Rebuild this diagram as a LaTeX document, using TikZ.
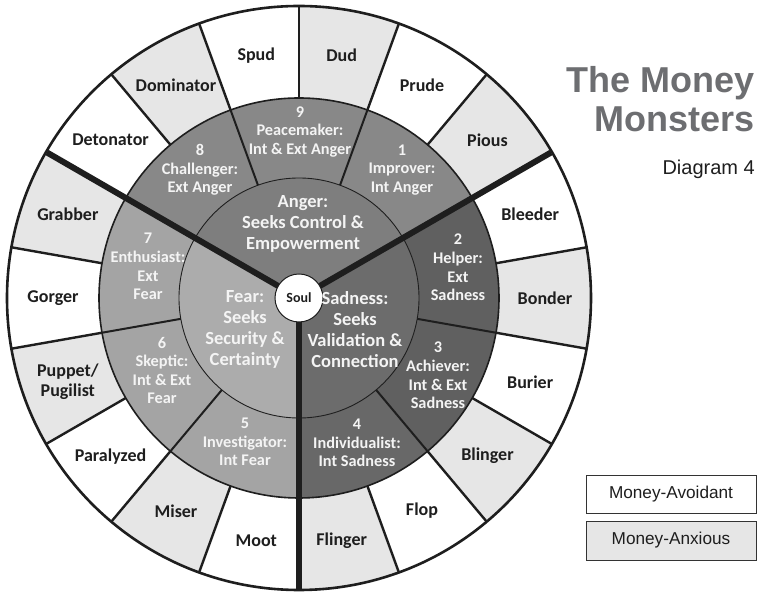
\documentclass[tikz,border=0pt]{standalone}
\usepackage{fontspec}
\setmainfont{Carlito}
\newfontfamily\headfont{Liberation Sans}

\definecolor{anxious}{HTML}{E6E6E6}
\definecolor{angertype}{HTML}{888888}
\definecolor{angercore}{HTML}{7E7E7E}
\definecolor{feartype}{HTML}{A4A4A4}
\definecolor{fearcore}{HTML}{ACACAC}
\definecolor{sadtype}{HTML}{606060}
\definecolor{sadfour}{HTML}{686868}
\definecolor{sadcore}{HTML}{6C6C6C}
\definecolor{titlegray}{HTML}{6D6E71}
\definecolor{ink}{HTML}{1E1E1E}
\definecolor{paletext}{HTML}{F4F4F4}

% annular sector: colour, start angle, end angle, inner radius, outer radius
\newcommand\ringsector[5]{%
  \fill[#1] (#2:#4) arc[start angle=#2, end angle=#3, radius=#4]
    -- (#3:#5) arc[start angle=#3, end angle=#2, radius=#5] -- cycle;}

\begin{document}
\begin{tikzpicture}[x=1pt,y=1pt,
  monster/.style={font=\fontsize{18}{20}\selectfont\bfseries, text=ink, align=center, inner sep=0pt},
  typelabel/.style={font=\fontsize{16.3}{18.6}\selectfont\bfseries, text=paletext, align=center, inner sep=0pt},
  corelabel/.style={font=\fontsize{18.5}{21}\selectfont\bfseries, text=paletext, align=center, inner sep=0pt},
  legendbox/.style={draw=black!80, line width=0.9pt, minimum width=170pt, minimum height=38pt,
    inner sep=0pt, font=\headfont\fontsize{17.2}{19}\selectfont, text=ink},
  divider/.style={line width=2.4pt, draw=ink},
  typedivider/.style={line width=2pt, draw=ink},
  maindivider/.style={line width=6pt, draw=ink}]

\useasboundingbox (-299,-295) rectangle (459,298);

% outer ring: money-avoidant (white) and money-anxious (grey) segments
\fill[white] (0,0) circle (292);
\foreach \s/\e in {-10/10,30/50,70/90,110/130,150/170,190/210,230/250,270/290,310/330}
  \ringsector{anxious}{\s}{\e}{200}{292};

% enneagram type ring
\ringsector{angertype}{30}{150}{120}{200}
\ringsector{feartype}{150}{270}{120}{200}
\ringsector{sadfour}{270}{310}{120}{200}
\ringsector{sadtype}{310}{390}{120}{200}

% core emotions
\fill[angercore] (0,0) -- (30:120) arc[start angle=30, end angle=150, radius=120] -- cycle;
\fill[fearcore] (0,0) -- (150:120) arc[start angle=150, end angle=270, radius=120] -- cycle;
\fill[sadcore] (0,0) -- (270:120) arc[start angle=270, end angle=390, radius=120] -- cycle;

% circles and dividers
\draw[line width=0.9pt, ink] (0,0) circle (120);
\draw[line width=1.6pt, ink] (0,0) circle (200);
\foreach \a in {70,110,190,230,310,350}
  \draw[typedivider] (\a:120) -- (\a:200);
\foreach \a in {10,50,70,90,110,130,170,190,210,230,250,290,310,330,350}
  \draw[divider] (\a:200) -- (\a:292);
\foreach \a in {30,150,270}
  \draw[maindivider] (\a:24) -- (\a:291);
\draw[line width=2.6pt, ink] (0,0) circle (292);

% centre
\node[circle, draw=ink, fill=white, line width=1pt, minimum size=48pt, inner sep=0pt,
  font=\fontsize{14}{16}\selectfont\bfseries, text=ink] (soul) at (0,0) {Soul};

% core labels
\node[corelabel] (anger) at (4,74) {Anger:\\Seeks Control \&\\Empowerment};
\node[corelabel] (fear) at (-54,-31.5) {Fear:\\Seeks\\Security \&\\Certainty};
\node[corelabel] (sadness) at (56,-31.5) {Sadness:\\Seeks\\Validation \&\\Connection};

% type labels
\node[typelabel] (t9) at (1,166) {9\\Peacemaker:\\Int \& Ext Anger};
\node[typelabel] (t1) at (103,128) {1\\Improver:\\Int Anger};
\node[typelabel] (t8) at (-99,128) {8\\Challenger:\\Ext Anger};
\node[typelabel] (t7) at (-151,31.5) {7\\Enthusiast:\\Ext\\Fear};
\node[typelabel] (t6) at (-137,-72.5) {6\\Skeptic:\\Int \& Ext\\Fear};
\node[typelabel] (t5) at (-54,-144) {5\\Investigator:\\Int Fear};
\node[typelabel] (t4) at (58,-145) {4\\Individualist:\\Int Sadness};
\node[typelabel] (t3) at (139,-77.5) {3\\Achiever:\\Int \& Ext\\Sadness};
\node[typelabel] (t2) at (159,30.5) {2\\Helper:\\Ext\\Sadness};

% money monsters
\node[monster] (bonder) at (0:246) {Bonder};
\node[monster] (bleeder) at (20:246) {Bleeder};
\node[monster] (pious) at (40:246) {Pious};
\node[monster] (prude) at (60:246) {Prude};
\node[monster] (dud) at (80:246) {Dud};
\node[monster] (spud) at (100:246) {Spud};
\node[monster] (dominator) at (120:246) {Dominator};
\node[monster] (detonator) at (140:246) {Detonator};
\node[monster] (grabber) at (160:246) {Grabber};
\node[monster] (gorger) at (180:246) {Gorger};
\node[monster] (puppet) at (200:246) {Puppet/\\Pugilist};
\node[monster] (paralyzed) at (220:246) {Paralyzed};
\node[monster] (miser) at (240:246) {Miser};
\node[monster] (moot) at (260:246) {Moot};
\node[monster] (flinger) at (280:246) {Flinger};
\node[monster] (flop) at (300:246) {Flop};
\node[monster] (blinger) at (320:246) {Blinger};
\node[monster] (burier) at (340:246) {Burier};

% heading
\node[anchor=base east, inner sep=0pt, font=\headfont\bfseries\fontsize{36}{39}\selectfont, text=titlegray]
  (title1) at (456,205) {The Money};
\node[anchor=base east, inner sep=0pt, font=\headfont\bfseries\fontsize{36}{39}\selectfont, text=titlegray]
  (title2) at (456,166) {Monsters};
\node[anchor=base east, inner sep=0pt, font=\headfont\fontsize{20}{22}\selectfont, text=ink]
  (subtitle) at (456,123) {Diagram 4};

% legend
\node[legendbox, fill=white] (avoidant) at (372,-196) {Money-Avoidant};
\node[legendbox, fill=anxious, minimum height=39pt] (anxiousbox) at (372,-242.5) {Money-Anxious};

\end{tikzpicture}
\end{document}
